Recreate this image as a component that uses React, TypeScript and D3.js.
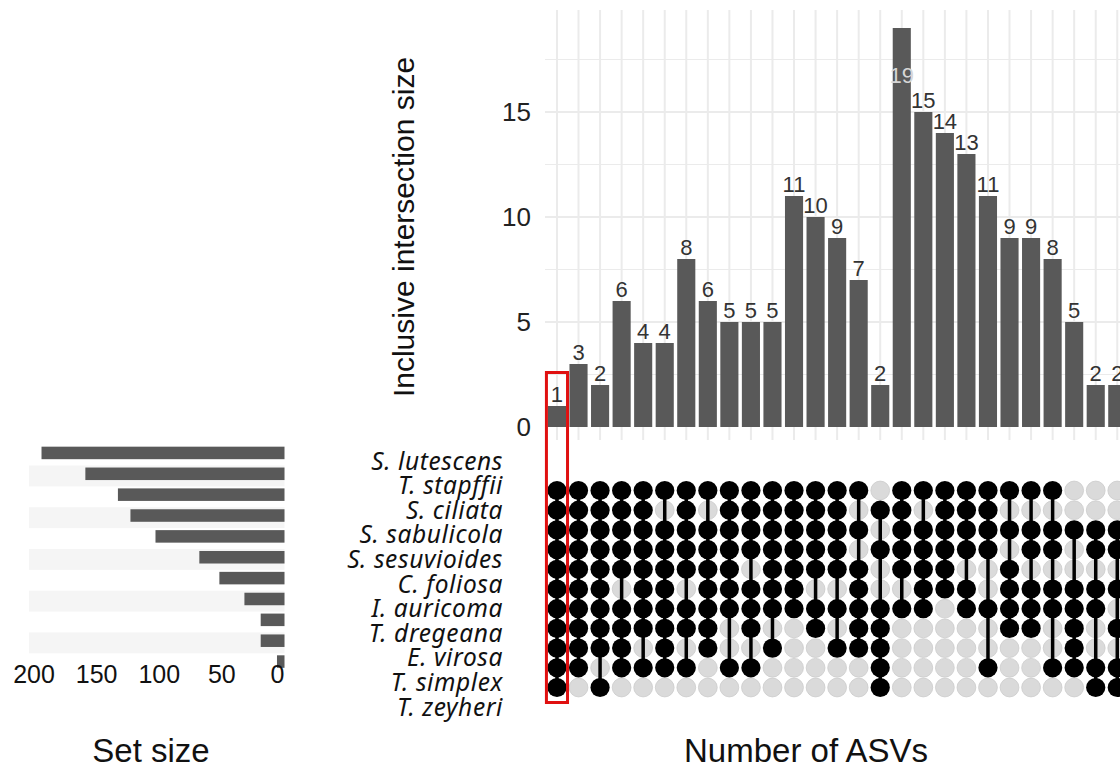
import React from "react";
import * as d3 from "d3";

// sets, top to bottom
const setNames = [
  "S. lutescens",
  "T. stapffii",
  "S. ciliata",
  "S. sabulicola",
  "S. sesuvioides",
  "C. foliosa",
  "I. auricoma",
  "T. dregeana",
  "E. virosa",
  "T. simplex",
  "T. zeyheri",
];
const setSizes = [194, 159, 133, 123, 103, 68, 52, 32, 19, 19, 6];

// inclusive intersection size per column
const intersectionSizes = [
  1, 3, 2, 6, 4, 4, 8, 6, 5, 5, 5, 11, 10, 9, 7, 2, 19, 15, 14, 13, 11, 9, 9, 8, 5, 2, 2,
];

// membership of each column, one char per set (top to bottom)
const memberships = [
  "11111111111",
  "11111111110",
  "11111111101",
  "11111011110",
  "11111111010",
  "10111111110",
  "11111011010",
  "10111111100",
  "11111110010",
  "11110111010",
  "11111110100",
  "11111110000",
  "11111011000",
  "11111010100",
  "10101111100",
  "01010011111",
  "11111010000",
  "10111110000",
  "11111100000",
  "11110110000",
  "11110010010",
  "10101111000",
  "10110111000",
  "10110110010",
  "00100111110",
  "00110110011",
  "00110101011",
];

const yTicks = [0, 5, 10, 15];
const yGrid = [2.5, 5, 7.5, 10, 12.5, 15, 17.5];
const setSizeTicks = [200, 150, 100, 50, 0];

const FONT = "'Liberation Sans', Arial, sans-serif";
const BAR = "#595959";
const GRID = "#ebebeb";

export default function App() {
  const cols = d3.range(intersectionSizes.length);
  const rows = d3.range(setNames.length);

  const x = d3
    .scaleBand<number>()
    .domain(cols)
    .range([546.2, 546.2 + cols.length * 21.55])
    .paddingInner(0.16)
    .paddingOuter(0.08);
  const cx = (i: number) => (x(i) as number) + x.bandwidth() / 2;

  const y = d3.scaleLinear().domain([0, 19]).range([427, 28]);
  const panelTop = 10;
  const panelBottom = 440;
  const labelTop = 83;

  const rowY = d3.scalePoint<number>().domain(rows).range([490.5, 687.5]);
  const labelY = d3.scalePoint<number>().domain(rows).range([461, 707]);

  const sx = d3.scaleLinear().domain([0, 200]).range([284.5, 34]);
  const sy = d3
    .scaleBand<number>()
    .domain(rows)
    .range([442.5, 672])
    .paddingInner(0.4)
    .paddingOuter(0.2);

  return (
    <svg
      width={1120}
      height={770}
      style={{ position: "absolute", left: 0, top: 0, background: "#fff" }}
      fontFamily={FONT}
    >
      {/* intersection bar panel grid */}
      <g>
        {yGrid.map((v) => (
          <line
            key={"h" + v}
            x1={545}
            x2={1120}
            y1={y(v)}
            y2={y(v)}
            stroke={GRID}
            strokeWidth={v % 5 === 0 ? 2 : 1.2}
          />
        ))}
        {cols.map((i) => (
          <line
            key={"v" + i}
            x1={cx(i)}
            x2={cx(i)}
            y1={panelTop}
            y2={panelBottom}
            stroke={GRID}
            strokeWidth={2}
          />
        ))}
      </g>

      {/* bars */}
      <g fill={BAR}>
        {intersectionSizes.map((v, i) => (
          <rect
            key={i}
            x={x(i)}
            y={y(v)}
            width={x.bandwidth()}
            height={y(0) - y(v)}
          />
        ))}
      </g>
      <g fontSize={22} textAnchor="middle">
        {intersectionSizes.map((v, i) => {
          const ly = y(v) - 4;
          const clamped = ly < labelTop;
          return (
            <text
              key={i}
              x={cx(i)}
              y={clamped ? labelTop : ly}
              fill={clamped ? "#d6d6d6" : "#333"}
            >
              {v}
            </text>
          );
        })}
      </g>

      {/* y axis */}
      <g fontSize={26} textAnchor="end" fill="#222">
        {yTicks.map((t) => (
          <text key={t} x={531} y={y(t)} dy="0.35em">
            {t}
          </text>
        ))}
      </g>
      <text
        transform={`translate(414,227) rotate(-90)`}
        textAnchor="middle"
        fontSize={30}
        fill="#111"
      >
        Inclusive intersection size
      </text>

      {/* matrix */}
      <g>
        {cols.map((c) =>
          rows.map((r) =>
            memberships[c][r] === "0" ? (
              <circle
                key={c + "-" + r}
                cx={cx(c)}
                cy={rowY(r)}
                r={9.4}
                fill="#dadada"
                stroke="#cccccc"
                strokeWidth={0.8}
              />
            ) : null
          )
        )}
        {cols.map((c) => {
          const on = rows.filter((r) => memberships[c][r] === "1");
          return (
            <line
              key={"l" + c}
              x1={cx(c)}
              x2={cx(c)}
              y1={rowY(d3.min(on) as number)}
              y2={rowY(d3.max(on) as number)}
              stroke="#000"
              strokeWidth={3.5}
            />
          );
        })}
        {cols.map((c) =>
          rows.map((r) =>
            memberships[c][r] === "1" ? (
              <circle
                key={"b" + c + "-" + r}
                cx={cx(c)}
                cy={rowY(r)}
                r={9.6}
                fill="#000"
              />
            ) : null
          )
        )}
      </g>

      {/* highlight box */}
      <rect
        x={(x(0) as number) - 1.5}
        y={372.5}
        width={x.bandwidth() + 3}
        height={330}
        fill="none"
        stroke="#e01010"
        strokeWidth={3}
      />

      {/* set labels */}
      <g
        fontSize={24.5}
        fontStyle="italic"
        textAnchor="end"
        fill="#111"
        letterSpacing={0.6}
        fontFamily="'Noto Sans', 'Open Sans', sans-serif"
      >
        {setNames.map((n, i) => (
          <text key={n} x={503} y={labelY(i)} dy="0.35em">
            {n}
          </text>
        ))}
      </g>

      {/* set size panel */}
      <g fill="#f5f5f5">
        {rows
          .filter((r) => r % 2 === 1)
          .map((r) => (
            <rect
              key={"s" + r}
              x={29}
              y={(sy(r) as number) - 2}
              width={sx(0) - 29}
              height={sy.step()}
            />
          ))}
      </g>
      <g fill={BAR}>
        {setSizes.map((v, i) => (
          <rect
            key={i}
            x={sx(v)}
            y={sy(i)}
            width={sx(0) - sx(v)}
            height={sy.bandwidth()}
          />
        ))}
      </g>
      <g fontSize={25} textAnchor="middle" fill="#111">
        {setSizeTicks.map((t) => (
          <text key={t} x={sx(t) - (t === 0 ? 7 : 0)} y={683}>
            {t}
          </text>
        ))}
      </g>
      <text x={151} y={762} textAnchor="middle" fontSize={33} fill="#111">
        Set size
      </text>
      <text x={806} y={762} textAnchor="middle" fontSize={33} fill="#111">
        Number of ASVs
      </text>
    </svg>
  );
}
